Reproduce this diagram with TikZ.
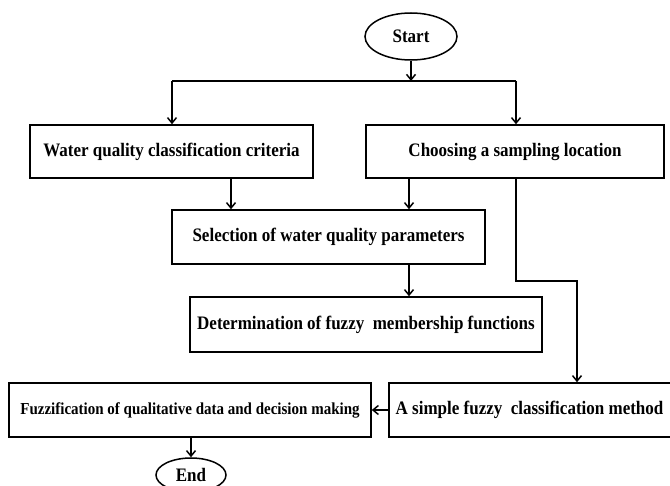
\documentclass[tikz,border=0pt]{standalone}
\usepackage{fontspec}
\setmainfont{Liberation Serif}
\usetikzlibrary{arrows.meta,shapes.geometric}
\newcommand{\vtx}[1]{\scalebox{1}[1.12]{#1}}
\begin{document}
\begin{tikzpicture}[x=1pt,y=-1pt,
  box/.style={draw,line width=1.5pt,rectangle,inner sep=0pt,font=\fontsize{17}{20}\selectfont\bfseries},
  oval/.style={draw,line width=1.5pt,ellipse,inner sep=0pt,font=\fontsize{17}{20}\selectfont\bfseries},
  arr/.style={line width=1.5pt,-{Straight Barb[length=5.5pt,width=9pt,line width=1.5pt]}},
  ln/.style={line width=1.5pt}]
\clip (0,0) rectangle (670,486);
\node[oval,minimum width=92pt,minimum height=47pt] (start) at (411,36.5) {\vtx{Start}};
\node[box,minimum width=283pt,minimum height=53pt] (wq) at (171.5,151.5) {\vtx{Water quality classification criteria}};
\node[box,minimum width=298pt,minimum height=53pt] (ch) at (515,151.5) {\vtx{Choosing a sampling location}};
\node[box,minimum width=313pt,minimum height=54pt] (sel) at (328.5,237) {\vtx{Selection of water quality parameters}};
\node[box,minimum width=352pt,minimum height=55pt] (det) at (366,324.5) {\vtx{Determination of fuzzy\ \ membership functions}};
\node[box,minimum width=362pt,minimum height=54pt,font=\fontsize{15}{18}\selectfont\bfseries] (fq) at (190,410) {\vtx{Fuzzification of qualitative\ data and decision making}};
\node[box,minimum width=291pt,minimum height=54pt] (fc) at (534.5,410) {\vtx{\hspace*{-10pt}A simple fuzzy\ \ classification method}};
\node[oval,minimum width=70pt,minimum height=34pt] (en) at (191,475) {\vtx{End}};
\coordinate (sp) at (411,81);
\coordinate (spL) at (172,81);
\coordinate (spR) at (516,81);
\coordinate (bend1) at (516,281);
\coordinate (bend2) at (577,281);
\draw[arr] (start) -- (sp);
\draw[ln] (spL) -- (spR);
\draw[arr] (spL) -- (spL |- wq.north);
\draw[arr] (spR) -- (spR |- ch.north);
\draw[arr] (231,0 |- wq.south) -- (231,0 |- sel.north);
\draw[arr] (409,0 |- ch.south) -- (409,0 |- sel.north);
\draw[arr] (409,0 |- sel.south) -- (409,0 |- det.north);
\draw[arr] (bend1 |- ch.south) -- (bend1) -- (bend2) -- (bend2 |- fc.north);
\draw[arr] (fc.west) -- (fq.east);
\draw[arr] (en.north |- fq.south) -- (en.north);
\end{tikzpicture}
\end{document}
